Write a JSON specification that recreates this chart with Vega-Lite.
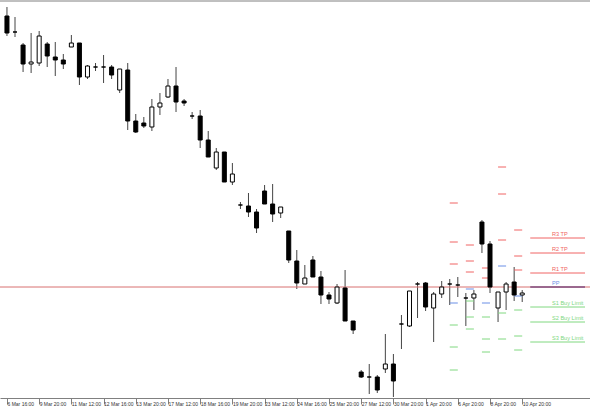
{
  "$schema": "https://vega.github.io/schema/vega-lite/v6.json",
  "width": 590,
  "height": 398,
  "autosize": "none",
  "padding": {"left": 0, "top": 0, "right": 0, "bottom": 12},
  "background": "white",
  "config": {
    "view": {"stroke": null},
    "axisX": {"title": null, "grid": false, "domainColor": "#808080", "tickColor": "#808080", "tickSize": 6, "labelAlign": "left", "labelBaseline": "middle", "labelPadding": -1, "labelDx": 2, "labelFontSize": 5, "labelFont": "Liberation Sans", "labelColor": "#333333", "labelFlush": false, "labelOverlap": false, "labelBound": false}
  },
  "datasets": {
    "candles": [
      {"i":0,"o":1.0384,"h":1.0393,"l":1.0364,"c":1.0367},
      {"i":1,"o":1.0368,"h":1.0383,"l":1.0363,"c":1.0368},
      {"i":2,"o":1.0355,"h":1.0357,"l":1.0328,"c":1.0336},
      {"i":3,"o":1.0336,"h":1.0367,"l":1.0327,"c":1.0338},
      {"i":4,"o":1.0337,"h":1.0369,"l":1.0334,"c":1.0364},
      {"i":5,"o":1.0356,"h":1.0358,"l":1.0333,"c":1.0344},
      {"i":6,"o":1.0343,"h":1.0358,"l":1.0324,"c":1.0340},
      {"i":7,"o":1.0340,"h":1.0346,"l":1.0331,"c":1.0336},
      {"i":8,"o":1.0353,"h":1.0365,"l":1.0353,"c":1.0357},
      {"i":9,"o":1.0357,"h":1.0357,"l":1.0315,"c":1.0323},
      {"i":10,"o":1.0323,"h":1.0335,"l":1.0321,"c":1.0334},
      {"i":11,"o":1.0333,"h":1.0337,"l":1.0329,"c":1.0333},
      {"i":12,"o":1.0333,"h":1.0345,"l":1.0317,"c":1.0333},
      {"i":13,"o":1.0333,"h":1.0335,"l":1.0321,"c":1.0325},
      {"i":14,"o":1.0310,"h":1.0331,"l":1.0307,"c":1.0331},
      {"i":15,"o":1.0330,"h":1.0337,"l":1.0270,"c":1.0279},
      {"i":16,"o":1.0279,"h":1.0286,"l":1.0267,"c":1.0268},
      {"i":17,"o":1.0277,"h":1.0283,"l":1.0272,"c":1.0274},
      {"i":18,"o":1.0273,"h":1.0301,"l":1.0269,"c":1.0293},
      {"i":19,"o":1.0293,"h":1.0307,"l":1.0285,"c":1.0297},
      {"i":20,"o":1.0303,"h":1.0321,"l":1.0302,"c":1.0314},
      {"i":21,"o":1.0314,"h":1.0333,"l":1.0288,"c":1.0298},
      {"i":22,"o":1.0299,"h":1.0301,"l":1.0294,"c":1.0297},
      {"i":23,"o":1.0284,"h":1.0288,"l":1.0281,"c":1.0284},
      {"i":24,"o":1.0284,"h":1.0290,"l":1.0252,"c":1.0260},
      {"i":25,"o":1.0260,"h":1.0269,"l":1.0243,"c":1.0243},
      {"i":26,"o":1.0232,"h":1.0252,"l":1.0230,"c":1.0248},
      {"i":27,"o":1.0248,"h":1.0248,"l":1.0218,"c":1.0218},
      {"i":28,"o":1.0218,"h":1.0237,"l":1.0215,"c":1.0226},
      {"i":29,"o":1.0195,"h":1.0198,"l":1.0191,"c":1.0195},
      {"i":30,"o":1.0194,"h":1.0207,"l":1.0183,"c":1.0188},
      {"i":31,"o":1.0188,"h":1.0191,"l":1.0167,"c":1.0172},
      {"i":32,"o":1.0209,"h":1.0215,"l":1.0196,"c":1.0196},
      {"i":33,"o":1.0196,"h":1.0216,"l":1.0178,"c":1.0186},
      {"i":34,"o":1.0187,"h":1.0193,"l":1.0182,"c":1.0193},
      {"i":35,"o":1.0169,"h":1.0169,"l":1.0137,"c":1.0140},
      {"i":36,"o":1.0139,"h":1.0150,"l":1.0111,"c":1.0117},
      {"i":37,"o":1.0116,"h":1.0135,"l":1.0116,"c":1.0122},
      {"i":38,"o":1.0140,"h":1.0144,"l":1.0123,"c":1.0123},
      {"i":39,"o":1.0123,"h":1.0129,"l":1.0096,"c":1.0105},
      {"i":40,"o":1.0105,"h":1.0108,"l":1.0096,"c":1.0101},
      {"i":41,"o":1.0097,"h":1.0116,"l":1.0096,"c":1.0113},
      {"i":42,"o":1.0112,"h":1.0130,"l":1.0079,"c":1.0079},
      {"i":43,"o":1.0079,"h":1.0079,"l":1.0066,"c":1.0070},
      {"i":44,"o":1.0028,"h":1.0030,"l":1.0022,"c":1.0023},
      {"i":45,"o":1.0023,"h":1.0036,"l":1.0006,"c":1.0023},
      {"i":46,"o":1.0023,"h":1.0025,"l":1.0007,"c":1.0010},
      {"i":47,"o":1.0031,"h":1.0066,"l":1.0027,"c":1.0036},
      {"i":48,"o":1.0036,"h":1.0046,"l":1.0003,"c":1.0019},
      {"i":49,"o":1.0076,"h":1.0085,"l":1.0051,"c":1.0076},
      {"i":50,"o":1.0074,"h":1.0109,"l":1.0073,"c":1.0109},
      {"i":51,"o":1.0116,"h":1.0118,"l":1.0082,"c":1.0116},
      {"i":52,"o":1.0117,"h":1.0118,"l":1.0089,"c":1.0093},
      {"i":53,"o":1.0092,"h":1.0108,"l":1.0058,"c":1.0106},
      {"i":54,"o":1.0106,"h":1.0119,"l":1.0102,"c":1.0113},
      {"i":55,"o":1.0116,"h":1.0121,"l":1.0095,"c":1.0116},
      {"i":56,"o":1.0115,"h":1.0123,"l":1.0103,"c":1.0115},
      {"i":57,"o":1.0102,"h":1.0107,"l":1.0074,"c":1.0102},
      {"i":58,"o":1.0102,"h":1.0110,"l":1.0090,"c":1.0106},
      {"i":59,"o":1.0178,"h":1.0180,"l":1.0147,"c":1.0156},
      {"i":60,"o":1.0156,"h":1.0159,"l":1.0107,"c":1.0113},
      {"i":61,"o":1.0092,"h":1.0108,"l":1.0078,"c":1.0108},
      {"i":62,"o":1.0108,"h":1.0118,"l":1.0090,"c":1.0116},
      {"i":63,"o":1.0118,"h":1.0133,"l":1.0099,"c":1.0105},
      {"i":64,"o":1.0105,"h":1.0110,"l":1.0098,"c":1.0107}
    ],
    "dashes": [
      {"i0":55,"i1":56,"p":1.0197,"k":"R"},
      {"i0":55,"i1":56,"p":1.0158,"k":"R"},
      {"i0":55,"i1":56,"p":1.0136,"k":"R"},
      {"i0":55,"i1":56,"p":1.0097,"k":"P"},
      {"i0":55,"i1":56,"p":1.0075,"k":"S"},
      {"i0":55,"i1":56,"p":1.0053,"k":"S"},
      {"i0":55,"i1":56,"p":1.0030,"k":"S"},
      {"i0":57,"i1":58,"p":1.0155,"k":"R"},
      {"i0":57,"i1":58,"p":1.0139,"k":"R"},
      {"i0":57,"i1":58,"p":1.0128,"k":"R"},
      {"i0":57,"i1":58,"p":1.0111,"k":"P"},
      {"i0":57,"i1":58,"p":1.0099,"k":"S"},
      {"i0":57,"i1":58,"p":1.0083,"k":"S"},
      {"i0":57,"i1":58,"p":1.0071,"k":"S"},
      {"i0":59,"i1":60,"p":1.0132,"k":"R"},
      {"i0":59,"i1":60,"p":1.0122,"k":"R"},
      {"i0":59,"i1":60,"p":1.0097,"k":"P"},
      {"i0":59,"i1":60,"p":1.0083,"k":"S"},
      {"i0":59,"i1":60,"p":1.0061,"k":"S"},
      {"i0":59,"i1":60,"p":1.0048,"k":"S"},
      {"i0":61,"i1":62,"p":1.0233,"k":"R"},
      {"i0":61,"i1":62,"p":1.0206,"k":"R"},
      {"i0":61,"i1":62,"p":1.0160,"k":"R"},
      {"i0":61,"i1":62,"p":1.0134,"k":"P"},
      {"i0":61,"i1":62,"p":1.0087,"k":"S"},
      {"i0":61,"i1":62,"p":1.0061,"k":"S"},
      {"i0":63,"i1":64,"p":1.0170,"k":"R"},
      {"i0":63,"i1":64,"p":1.0144,"k":"R"},
      {"i0":63,"i1":64,"p":1.0130,"k":"R"},
      {"i0":63,"i1":64,"p":1.0104,"k":"P"},
      {"i0":63,"i1":64,"p":1.0090,"k":"S"},
      {"i0":63,"i1":64,"p":1.0064,"k":"S"},
      {"i0":63,"i1":64,"p":1.0050,"k":"S"},
      {"i0":65,"i1":71.8,"p":1.0162,"k":"R"},
      {"i0":65,"i1":71.8,"p":1.0147,"k":"R"},
      {"i0":65,"i1":71.8,"p":1.0127,"k":"R"},
      {"i0":65,"i1":71.8,"p":1.0113,"k":"PP"},
      {"i0":65,"i1":71.8,"p":1.0093,"k":"S"},
      {"i0":65,"i1":71.8,"p":1.0078,"k":"S"},
      {"i0":65,"i1":71.8,"p":1.0058,"k":"S"}
    ],
    "labels": [
      {"t":"R3 TP","p":1.0162,"k":"R"},
      {"t":"R2 TP","p":1.0147,"k":"R"},
      {"t":"R1 TP","p":1.0127,"k":"R"},
      {"t":"PP","p":1.0113,"k":"P"},
      {"t":"S1 Buy Limit","p":1.0093,"k":"S"},
      {"t":"S2 Buy Limit","p":1.0078,"k":"S"},
      {"t":"S3 Buy Limit","p":1.0058,"k":"S"}
    ],
    "hlines": [
      {"p":1.0113,"k":"line"}
    ],
    "border": [
      {"p":1.0399}
    ]
  },
  "layer": [
    {
      "data": {"name": "candles"},
      "mark": {"type": "rule", "color": "#444444", "strokeWidth": 1},
      "encoding": {
        "x": {"field": "i", "type": "quantitative", "scale": {"domain": [-0.244, 71.8], "nice": false, "zero": false}, "axis": {"values": [0,4,8,12,16,20,24,28,32,36,40,44,48,52,56,60,64], "tickCount": 40, "labelExpr": "['6 Mar 16:00','9 Mar 20:00','11 Mar 12:00','12 Mar 16:00','13 Mar 20:00','17 Mar 12:00','18 Mar 16:00','19 Mar 20:00','23 Mar 12:00','24 Mar 16:00','25 Mar 20:00','27 Mar 12:00','30 Mar 20:00','1 Apr 20:00','6 Apr 20:00','8 Apr 20:00','10 Apr 20:00'][round(datum.value/4)]", "labelOverlap": false}},
        "y": {"field": "l", "type": "quantitative", "scale": {"domain": [1.0002, 1.04], "nice": false, "zero": false}, "axis": null},
        "y2": {"field": "h"}
      }
    },
    {
      "data": {"name": "border"},
      "mark": {"type": "rule", "color": "#808080", "strokeWidth": 1},
      "encoding": {
        "y": {"field": "p", "type": "quantitative"}
      }
    },
    {
      "data": {"name": "hlines"},
      "mark": {"type": "rule", "color": "#d87070", "strokeWidth": 1},
      "encoding": {
        "y": {"field": "p", "type": "quantitative"}
      }
    },
    {
      "data": {"name": "dashes"},
      "mark": {"type": "rule", "strokeWidth": 1},
      "encoding": {
        "x": {"field": "i0", "type": "quantitative"},
        "x2": {"field": "i1"},
        "y": {"field": "p", "type": "quantitative"},
        "color": {"field": "k", "type": "nominal", "scale": {"domain": ["R", "P", "S", "PP"], "range": ["#f06464", "#6b8fe6", "#80d880", "#4a1a66"]}, "legend": null}
      }
    },
    {
      "data": {"name": "candles"},
      "mark": {"type": "bar", "width": 4, "stroke": "#000000", "strokeWidth": 1},
      "encoding": {
        "x": {"field": "i", "type": "quantitative"},
        "y": {"field": "o", "type": "quantitative"},
        "y2": {"field": "c"},
        "fill": {"condition": {"test": "datum.c < datum.o", "value": "#000000"}, "value": "#ffffff"}
      }
    },
    {
      "data": {"name": "labels"},
      "mark": {"type": "text", "align": "left", "baseline": "bottom", "dy": -1, "fontSize": 5.6, "font": "Liberation Sans"},
      "encoding": {
        "x": {"datum": 67.7, "type": "quantitative"},
        "y": {"field": "p", "type": "quantitative"},
        "text": {"field": "t"},
        "color": {"field": "k", "type": "nominal", "scale": {"domain": ["R", "P", "S", "PP"], "range": ["#f06464", "#6b8fe6", "#80d880", "#4a1a66"]}, "legend": null}
      }
    }
  ]
}
